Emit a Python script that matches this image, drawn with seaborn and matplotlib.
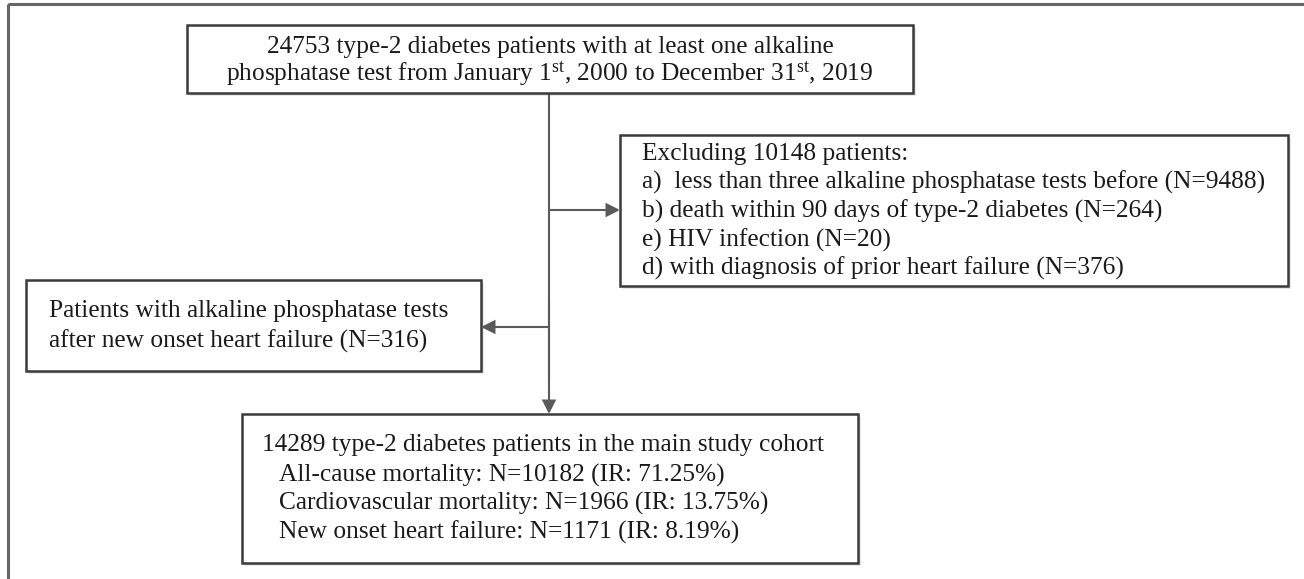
import matplotlib
matplotlib.use("Agg")
import matplotlib.pyplot as plt
from matplotlib.patches import Rectangle
import seaborn as sns

# ---------------- data ----------------
total_patients = 24753
excluded_total = 10148
exclusion_labels = ["a)  less than three alkaline phosphatase tests before",
                    "b) death within 90 days of type-2 diabetes",
                    "e) HIV infection",
                    "d) with diagnosis of prior heart failure"]
exclusion_counts = [9488, 264, 20, 376]
after_hf_count = 316
cohort_count = 14289
outcome_labels = ["All-cause mortality", "Cardiovascular mortality", "New onset heart failure"]
outcome_counts = [10182, 1966, 1171]
outcome_rates = [71.25, 13.75, 8.19]

# ---------------- style ----------------
sns.set_style("white")
plt.rcParams["font.family"] = ["Liberation Serif", "DejaVu Serif"]
plt.rcParams["mathtext.fontset"] = "custom"
plt.rcParams["mathtext.rm"] = "Liberation Serif"
plt.rcParams["mathtext.it"] = "Liberation Serif:italic"
plt.rcParams["mathtext.bf"] = "Liberation Serif:bold"

FS = 18.3
W, H = 1304, 579
fig = plt.figure(figsize=(W / 100, H / 100), dpi=100)
ax = fig.add_axes([0, 0, 1, 1])
ax.set_xlim(0, W)
ax.set_ylim(H, 0)
ax.axis("off")

box_edge = "#3a3a3a"
line_col = "#5a5a5a"
shadow_col = "#e6e6e6"
txt_col = "#1a1a1a"

# outer frame (extends past right/bottom edge)
ax.add_patch(Rectangle((8, 4), 1310, 600, fill=False, edgecolor="#666666", lw=2.2, zorder=1))


def box(x0, y0, x1, y1):
    ax.add_patch(Rectangle((x0 + 3, y0 + 3), x1 - x0, y1 - y0, facecolor=shadow_col,
                           edgecolor="none", zorder=2))
    ax.add_patch(Rectangle((x0, y0), x1 - x0, y1 - y0, facecolor="white",
                           edgecolor=box_edge, lw=1.8, zorder=3))


def arrow(x0, y0, x1, y1):
    ax.annotate("", xy=(x1, y1), xytext=(x0, y0),
                arrowprops=dict(arrowstyle="-|>", color=line_col, lw=1.5,
                                mutation_scale=20, shrinkA=0, shrinkB=0,
                                joinstyle="miter"), zorder=4)


# boxes
box(187, 25, 913, 93)
box(620, 135, 1288, 286)
box(26, 280, 481, 371)
box(242, 414, 858, 563)

# connectors
ax.plot([549, 549], [93, 380], color=line_col, lw=1.5, zorder=2)
arrow(549, 300, 549, 414)
arrow(549, 210, 620, 210)
arrow(549, 327, 481, 327)

# top box text
ax.text(550, 47.5, f"{total_patients} type-2 diabetes patients with at least one alkaline",
        ha="center", va="center", fontsize=FS, color=txt_col, zorder=5)
ax.text(550, 73.5, r"phosphatase test from January 1$^{\mathrm{st}}$, 2000 to December 31$^{\mathrm{st}}$, 2019",
        ha="center", va="center", fontsize=FS, color=txt_col, zorder=5)

# exclusion box text
excl_lines = [f"Excluding {excluded_total} patients:"] + \
    [f"{lab} (N={n})" for lab, n in zip(exclusion_labels, exclusion_counts)]
for i, t in enumerate(excl_lines):
    ax.text(642, 154 + i * 28.6, t, ha="left", va="center", fontsize=FS, color=txt_col, zorder=5)

# left box text
ax.text(49, 311.5, "Patients with alkaline phosphatase tests", ha="left", va="center",
        fontsize=FS, color=txt_col, zorder=5)
ax.text(49, 341.5, f"after new onset heart failure (N={after_hf_count})", ha="left", va="center",
        fontsize=FS, color=txt_col, zorder=5)

# bottom box text
ax.text(262, 445, f"{cohort_count} type-2 diabetes patients in the main study cohort",
        ha="left", va="center", fontsize=FS, color=txt_col, zorder=5)
for i, (lab, n, r) in enumerate(zip(outcome_labels, outcome_counts, outcome_rates)):
    ax.text(279, 475 + i * 28.7, f"{lab}: N={n} (IR: {r:.2f}%)", ha="left", va="center",
            fontsize=FS, color=txt_col, zorder=5)

fig.savefig("out.png", dpi=100)
